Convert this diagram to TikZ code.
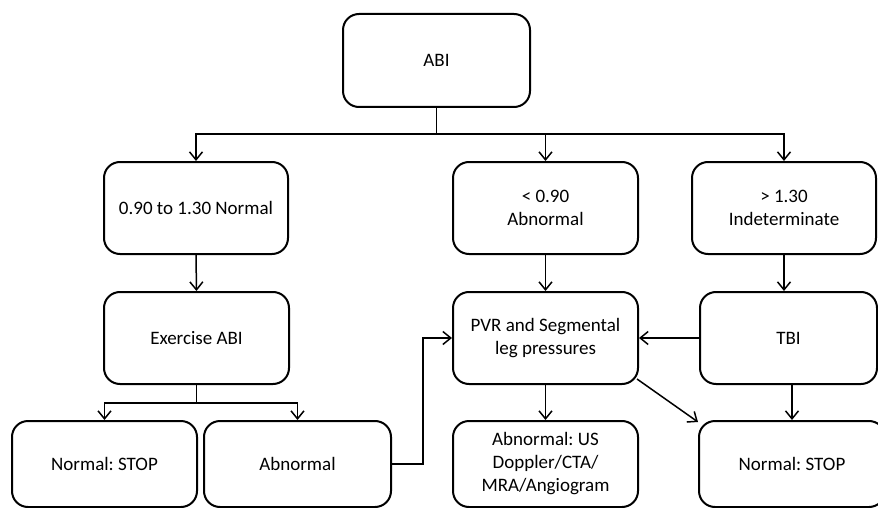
\documentclass[tikz,border=0pt]{standalone}
\usepackage{fontspec}
\setmainfont{Carlito}
\usetikzlibrary{arrows.meta,calc}
\frenchspacing
\begin{document}
\begin{tikzpicture}[x=1pt,y=-1pt,
  box/.style={draw,line width=2pt,rounded corners=16pt,align=center,inner sep=0pt,
    font=\fontsize{19}{23}\selectfont\frenchspacing},
  link/.style={line width=1.5pt},
  arr/.style={link,-{Straight Barb[length=8pt,width=13pt,line width=1.5pt]}}]
\useasboundingbox (0,0) rectangle (878,508);
\clip (0,0) rectangle (878,508);
\node[box,minimum width=187pt,minimum height=93pt] (abi) at (436.5,60.5) {ABI};
\node[box,minimum width=184pt,minimum height=92pt] (n1) at (196,208) {0.90 to 1.30 Normal};
\node[box,minimum width=185pt,minimum height=92pt] (n2) at (545.5,208) {< 0.90\\Abnormal};
\node[box,minimum width=184pt,minimum height=92pt] (n3) at (784,208) {> 1.30\\Indeterminate};
\node[box,minimum width=185pt,minimum height=92pt] (ex) at (196.5,338) {Exercise ABI};
\node[box,minimum width=185pt,minimum height=92pt] (pvr) at (545.5,338) {PVR and Segmental\\leg pressures};
\node[box,minimum width=177pt,minimum height=92pt] (tbi) at (788.5,338) {TBI};
\node[box,minimum width=185pt,minimum height=86pt] (ns1) at (104.5,464) {Normal: STOP};
\node[box,minimum width=187pt,minimum height=86pt] (ab) at (297.5,464) {Abnormal};
\node[box,minimum width=185pt,minimum height=86pt] (us) at (545.5,464) {Abnormal: US\\Doppler/CTA/\\MRA/Angiogram};
\node[box,minimum width=186pt,minimum height=86pt] (ns2) at (792,464) {Normal: STOP};
% top split
\coordinate (j) at (436.5,134);
\draw[link] (abi.south) -- (j);
\draw[arr] (j) -| (n1.north);
\draw[arr] (j) -| (n2.north);
\draw[arr] (j) -| (n3.north);
% column links
\draw[arr] (n1.south) -- (ex.north);
\draw[arr] (n2.south) -- (pvr.north);
\draw[arr] (n3.south) -- (n3.south |- tbi.north);
% exercise split
\coordinate (k) at ($(ex.south)+(0,18)$);
\draw[link] (ex.south) -- (k);
\draw[arr] (k) -| (ns1.north);
\draw[arr] (k) -| (ab.north);
% abnormal back to pvr
\draw[arr] (ab.east) -- ++(31,0) |- (pvr.west);
% tbi to pvr
\draw[arr] (tbi.west) -- (pvr.east);
% pvr down
\draw[arr] (pvr.south) -- (us.north);
\draw[arr] ($(pvr.south east)+(-2,-6)$) -- ($(ns2.north west)+(0,2)$);
% tbi down
\draw[arr] (ns2.north |- tbi.south) -- (ns2.north);
\end{tikzpicture}
\end{document}
